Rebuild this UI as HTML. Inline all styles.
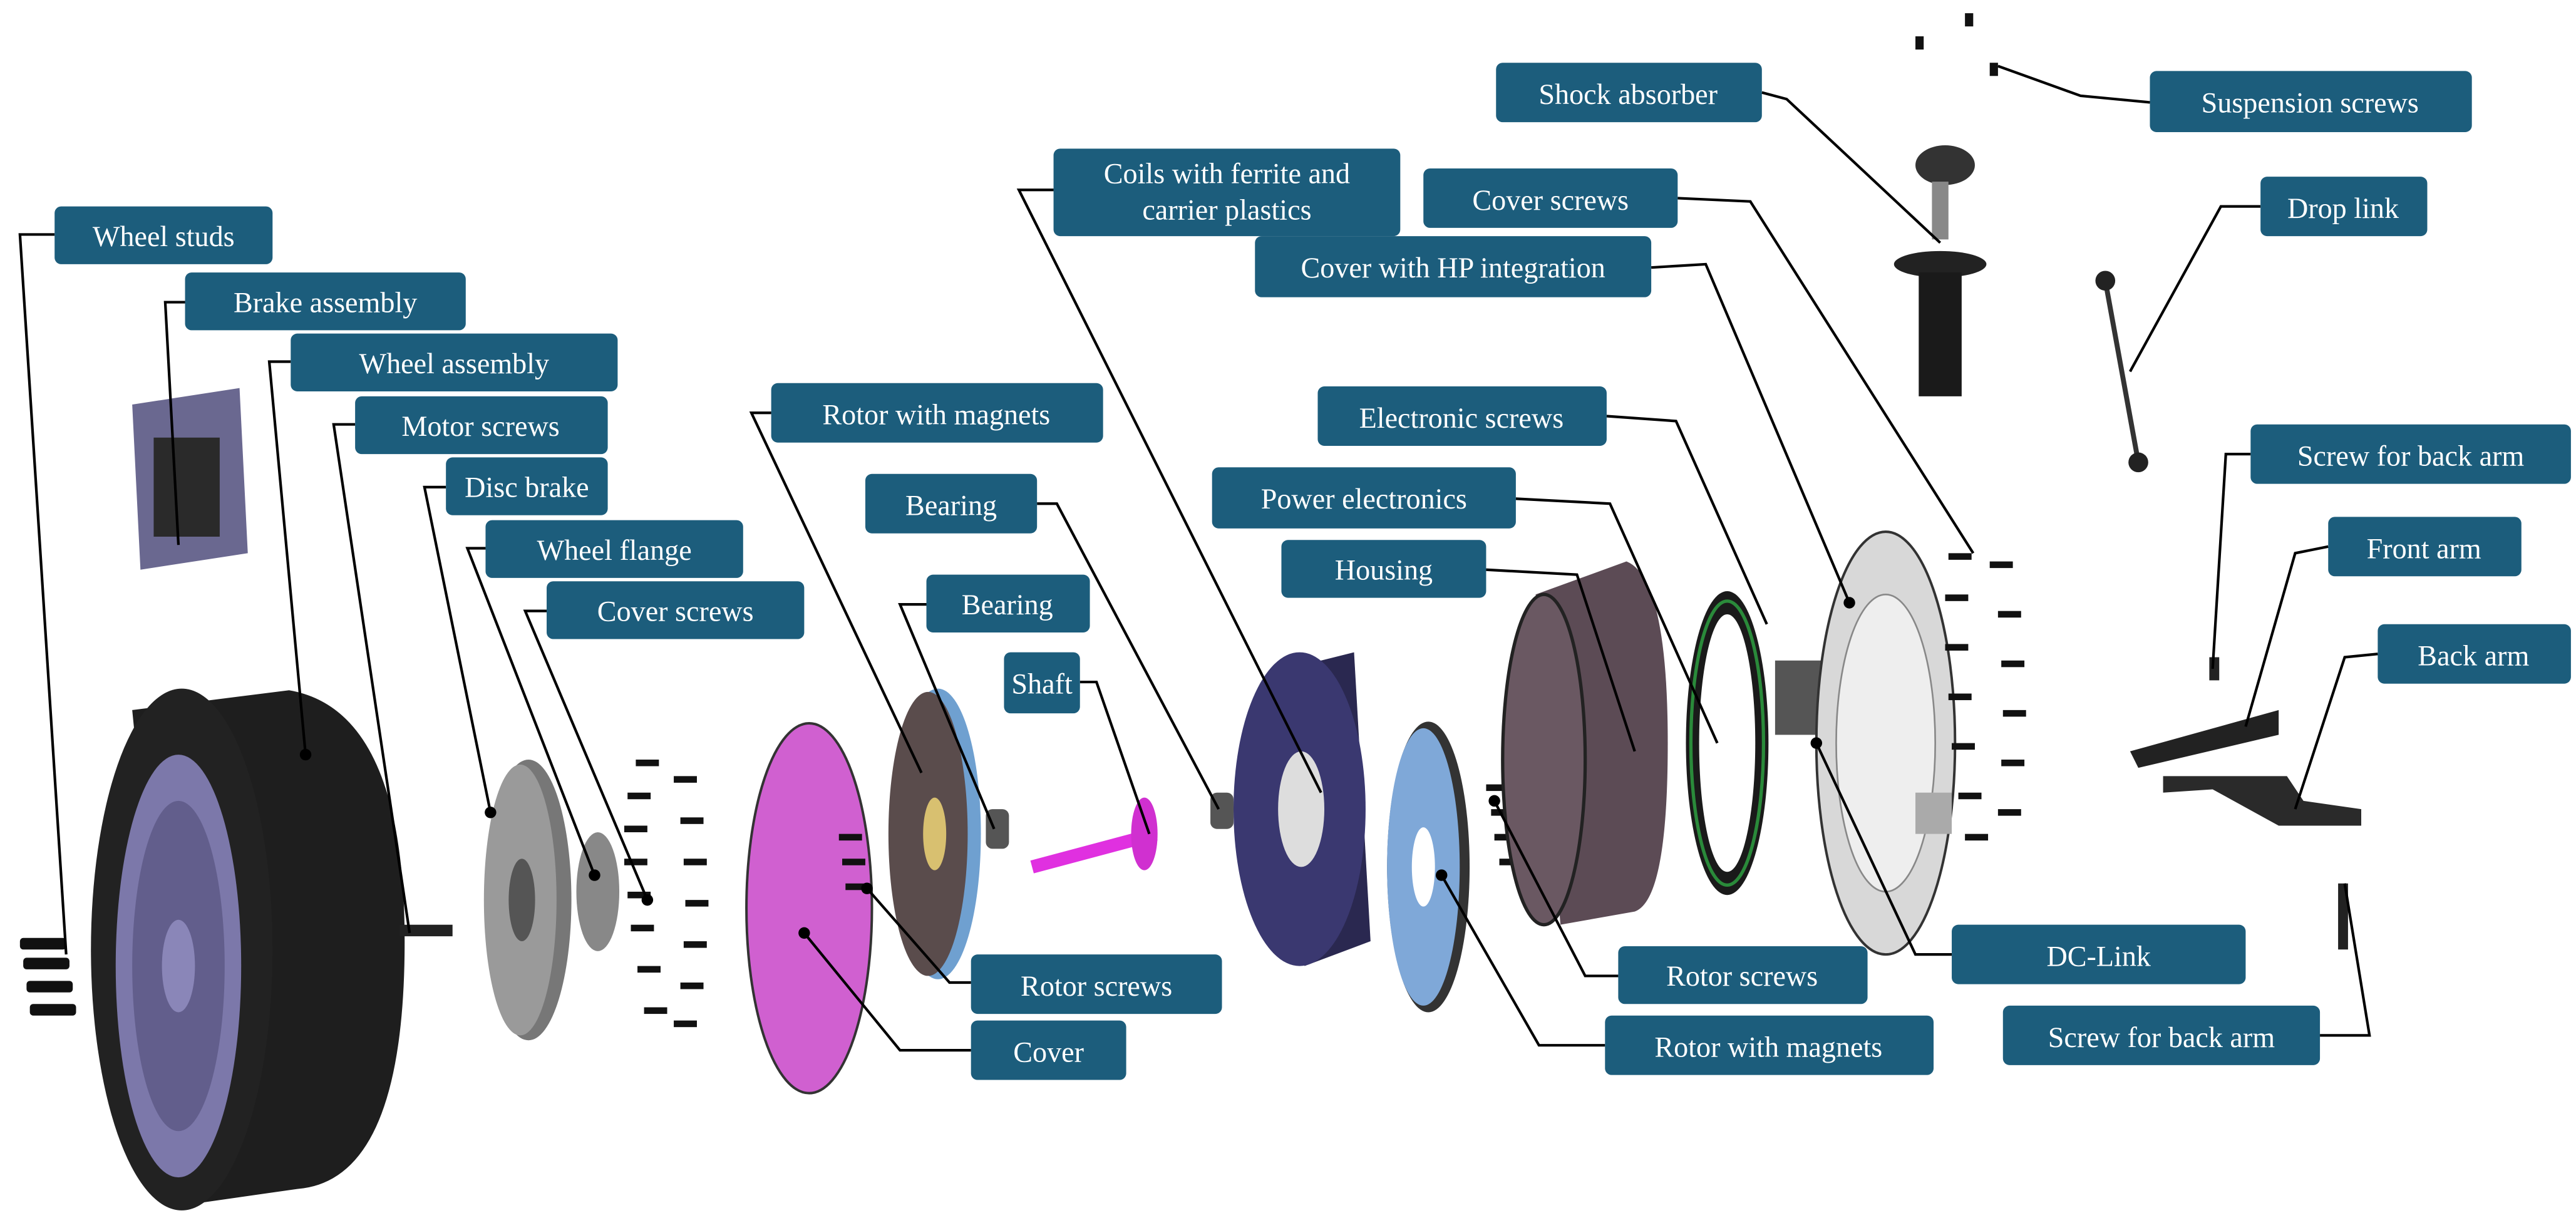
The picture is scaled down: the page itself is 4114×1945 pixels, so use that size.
<!DOCTYPE html>
<html><head><meta charset="utf-8"><style>
html,body{margin:0;padding:0;background:#fff;}
svg{display:block}
.b{fill:#1c5d7c}
.t{fill:#fff;font-family:"Liberation Serif",serif;font-size:17.5px;text-anchor:middle}
.l{stroke:#000;stroke-width:1.6;fill:none}
</style></head><body>
<svg width="4114" height="1945" viewBox="0 0 1560 737.6" xmlns="http://www.w3.org/2000/svg">
<rect width="1560" height="738" fill="#fff"/>
<g fill="#111"><rect x="12" y="568" width="28" height="7" rx="2"/><rect x="14" y="580" width="28" height="7" rx="2"/><rect x="16" y="594" width="28" height="7" rx="2"/><rect x="18" y="608" width="28" height="7" rx="2"/></g>
<path d="M80,430 L175,418 Q245,430 245,570 Q245,715 180,720 L110,730 Z" fill="#1e1e1e"/>
<ellipse cx="110" cy="575" rx="55" ry="158" fill="#222"/>
<ellipse cx="108" cy="585" rx="38" ry="128" fill="#7c78aa"/>
<ellipse cx="108" cy="585" rx="28" ry="100" fill="#625e8c"/>
<ellipse cx="108" cy="585" rx="10" ry="28" fill="#8a86b8"/>
<path d="M80,245 L145,235 L150,335 L85,345 Z" fill="#6a6890"/>
<rect x="93" y="265" width="40" height="60" fill="#2a2a2a"/>
<rect x="242" y="560" width="32" height="7" fill="#222"/>
<ellipse cx="320" cy="545" rx="26" ry="85" fill="#777"/>
<ellipse cx="315" cy="545" rx="22" ry="82" fill="#9a9a9a"/>
<ellipse cx="316" cy="545" rx="8" ry="25" fill="#555"/>
<ellipse cx="362" cy="540" rx="13" ry="36" fill="#888"/>
<g fill="#111">
<rect x="385" y="460" width="14" height="4"/><rect x="380" y="480" width="14" height="4"/><rect x="378" y="500" width="14" height="4"/><rect x="378" y="520" width="14" height="4"/><rect x="380" y="540" width="14" height="4"/><rect x="382" y="560" width="14" height="4"/><rect x="386" y="585" width="14" height="4"/><rect x="390" y="610" width="14" height="4"/>
<rect x="408" y="470" width="14" height="4"/><rect x="412" y="495" width="14" height="4"/><rect x="414" y="520" width="14" height="4"/><rect x="415" y="545" width="14" height="4"/><rect x="414" y="570" width="14" height="4"/><rect x="412" y="595" width="14" height="4"/><rect x="408" y="618" width="14" height="4"/></g>
<ellipse cx="490" cy="550" rx="38" ry="112" fill="#d060d0" stroke="#333" stroke-width="1.5"/>
<g fill="#111"><rect x="508" y="505" width="14" height="4"/><rect x="510" y="520" width="14" height="4"/><rect x="512" y="535" width="14" height="4"/></g>
<ellipse cx="568" cy="505" rx="26" ry="88" fill="#6fa0d0"/>
<ellipse cx="562" cy="505" rx="24" ry="86" fill="#5a4c4c"/>
<ellipse cx="566" cy="505" rx="7" ry="22" fill="#d8c070"/>
<rect x="597" y="490" width="14" height="24" rx="4" fill="#555"/>
<line x1="625" y1="525" x2="700" y2="505" stroke="#e030e0" stroke-width="8"/>
<ellipse cx="693" cy="505" rx="8" ry="22" fill="#d030d0"/>
<rect x="733" y="480" width="14" height="22" rx="4" fill="#555"/>
<path d="M780,405 L820,395 L830,570 L790,585 Z" fill="#2a2850"/>
<ellipse cx="787" cy="490" rx="40" ry="95" fill="#3a3870"/>
<ellipse cx="788" cy="490" rx="14" ry="35" fill="#ddd"/>
<ellipse cx="865" cy="525" rx="25" ry="88" fill="#333"/>
<ellipse cx="862" cy="525" rx="22" ry="84" fill="#7fa8d8"/>
<ellipse cx="862" cy="525" rx="7" ry="24" fill="#fff"/>
<g fill="#111"><rect x="900" y="475" width="14" height="4"/><rect x="903" y="490" width="14" height="4"/><rect x="905" y="505" width="14" height="4"/><rect x="908" y="520" width="14" height="4"/></g>
<path d="M930,360 L985,340 Q1010,350 1010,450 Q1010,545 990,552 L945,560 Z" fill="#5c4b55"/>
<ellipse cx="935" cy="460" rx="25" ry="100" fill="#6a5862" stroke="#222" stroke-width="2"/>
<ellipse cx="1046" cy="450" rx="25" ry="92" fill="#1a1a1a"/>
<ellipse cx="1046" cy="450" rx="17" ry="78" fill="#fff"/>
<ellipse cx="1046" cy="450" rx="22" ry="86" fill="none" stroke="#2a8a3a" stroke-width="2"/>
<rect x="1075" y="400" width="30" height="45" fill="#555"/>
<ellipse cx="1142" cy="450" rx="42" ry="128" fill="#d8d8d8" stroke="#333" stroke-width="1.5"/>
<ellipse cx="1142" cy="450" rx="30" ry="90" fill="#eee" stroke="#888"/>
<rect x="1160" y="480" width="22" height="25" fill="#aaa"/>
<g fill="#111">
<rect x="1180" y="335" width="14" height="4"/><rect x="1178" y="360" width="14" height="4"/><rect x="1178" y="390" width="14" height="4"/><rect x="1180" y="420" width="14" height="4"/><rect x="1182" y="450" width="14" height="4"/><rect x="1186" y="480" width="14" height="4"/><rect x="1190" y="505" width="14" height="4"/>
<rect x="1205" y="340" width="14" height="4"/><rect x="1210" y="370" width="14" height="4"/><rect x="1212" y="400" width="14" height="4"/><rect x="1213" y="430" width="14" height="4"/><rect x="1212" y="460" width="14" height="4"/><rect x="1210" y="490" width="14" height="4"/></g>
<ellipse cx="1178" cy="100" rx="18" ry="12" fill="#333"/>
<rect x="1170" y="110" width="10" height="35" fill="#888"/>
<ellipse cx="1175" cy="160" rx="28" ry="8" fill="#222"/>
<rect x="1162" y="165" width="26" height="75" fill="#1a1a1a"/>
<g fill="#111"><rect x="1160" y="22" width="5" height="8"/><rect x="1190" y="8" width="5" height="8"/><rect x="1205" y="38" width="5" height="8"/></g>
<line x1="1275" y1="170" x2="1295" y2="280" stroke="#333" stroke-width="3"/>
<circle cx="1275" cy="170" r="6" fill="#222"/><circle cx="1295" cy="280" r="6" fill="#222"/>
<path d="M1290,455 L1380,430 L1380,445 L1295,465 Z" fill="#222"/>
<path d="M1310,470 L1385,470 L1395,485 L1430,490 L1430,500 L1380,500 L1340,478 L1310,480 Z" fill="#2a2a2a"/>
<rect x="1338" y="398" width="6" height="14" fill="#222"/>
<rect x="1416" y="535" width="6" height="40" fill="#222"/>
<g class="l">
<polyline points="33,142 12,142 40,578"/>
<polyline points="112,183 100,183 108,330"/>
<polyline points="176,219 163,219 185,457"/>
<polyline points="215,257 202,257 248,565"/>
<polyline points="270,295 257,295 297,492"/>
<polyline points="294,332 283,332 360,530"/>
<polyline points="331,370 318,370 392,545"/>
<polyline points="467,250 455,250 558,468"/>
<polyline points="628,305 640,305 738,490"/>
<polyline points="561,366 545,366 602,502"/>
<polyline points="654,413 664,413 696,505"/>
<polyline points="638,115 617,115 800,480"/>
<polyline points="588,595 575,595 525,538"/>
<polyline points="588,636 545,636 487,565"/>
<polyline points="1016,120 1060,122 1195,335"/>
<polyline points="1000,162 1033,160 1120,365"/>
<polyline points="973,252 1015,255 1070,378"/>
<polyline points="918,302 975,305 1040,450"/>
<polyline points="900,345 955,348 990,455"/>
<polyline points="1067,56 1082,60 1175,147"/>
<polyline points="1302,62 1260,58 1210,40"/>
<polyline points="1369,125 1345,125 1290,225"/>
<polyline points="1363,275 1348,275 1340,405"/>
<polyline points="1410,331 1390,335 1360,440"/>
<polyline points="1440,396 1420,398 1390,490"/>
<polyline points="1182,578 1160,578 1100,450"/>
<polyline points="1405,627 1435,627 1420,535"/>
<polyline points="980,591 960,591 905,485"/>
<polyline points="972,633 932,633 873,530"/>
</g>
<g fill="#000"><circle cx="185" cy="457" r="3.5"/><circle cx="297" cy="492" r="3.5"/><circle cx="360" cy="530" r="3.5"/><circle cx="392" cy="545" r="3.5"/><circle cx="487" cy="565" r="3.5"/><circle cx="525" cy="538" r="3.5"/><circle cx="905" cy="485" r="3.5"/><circle cx="873" cy="530" r="3.5"/><circle cx="1100" cy="450" r="3.5"/><circle cx="1120" cy="365" r="3.5"/></g>
<g>
<rect class="b" x="33" y="125" width="132" height="35" rx="4"/><text class="t" x="99" y="149">Wheel studs</text>
<rect class="b" x="112" y="165" width="170" height="35" rx="4"/><text class="t" x="197" y="189">Brake assembly</text>
<rect class="b" x="176" y="202" width="198" height="35" rx="4"/><text class="t" x="275" y="226">Wheel assembly</text>
<rect class="b" x="215" y="240" width="153" height="35" rx="4"/><text class="t" x="291" y="264">Motor screws</text>
<rect class="b" x="270" y="277" width="98" height="35" rx="4"/><text class="t" x="319" y="301">Disc brake</text>
<rect class="b" x="294" y="315" width="156" height="35" rx="4"/><text class="t" x="372" y="339">Wheel flange</text>
<rect class="b" x="331" y="352" width="156" height="35" rx="4"/><text class="t" x="409" y="376">Cover screws</text>
<rect class="b" x="467" y="232" width="201" height="36" rx="4"/><text class="t" x="567" y="257">Rotor with magnets</text>
<rect class="b" x="524" y="287" width="104" height="36" rx="4"/><text class="t" x="576" y="312">Bearing</text>
<rect class="b" x="561" y="348" width="99" height="35" rx="4"/><text class="t" x="610" y="372">Bearing</text>
<rect class="b" x="608" y="395" width="46" height="37" rx="4"/><text class="t" x="631" y="420">Shaft</text>
<rect class="b" x="638" y="90" width="210" height="53" rx="4"/><text class="t" x="743" y="111">Coils with ferrite and</text><text class="t" x="743" y="133">carrier plastics</text>
<rect class="b" x="588" y="578" width="152" height="36" rx="4"/><text class="t" x="664" y="603">Rotor screws</text>
<rect class="b" x="588" y="618" width="94" height="36" rx="4"/><text class="t" x="635" y="643">Cover</text>
<rect class="b" x="862" y="102" width="154" height="36" rx="4"/><text class="t" x="939" y="127">Cover screws</text>
<rect class="b" x="760" y="143" width="240" height="37" rx="4"/><text class="t" x="880" y="168">Cover with HP integration</text>
<rect class="b" x="798" y="234" width="175" height="36" rx="4"/><text class="t" x="885" y="259">Electronic screws</text>
<rect class="b" x="734" y="283" width="184" height="37" rx="4"/><text class="t" x="826" y="308">Power electronics</text>
<rect class="b" x="776" y="327" width="124" height="35" rx="4"/><text class="t" x="838" y="351">Housing</text>
<rect class="b" x="906" y="38" width="161" height="36" rx="4"/><text class="t" x="986" y="63">Shock absorber</text>
<rect class="b" x="1302" y="43" width="195" height="37" rx="4"/><text class="t" x="1399" y="68">Suspension screws</text>
<rect class="b" x="1369" y="107" width="101" height="36" rx="4"/><text class="t" x="1419" y="132">Drop link</text>
<rect class="b" x="1363" y="257" width="194" height="36" rx="4"/><text class="t" x="1460" y="282">Screw for back arm</text>
<rect class="b" x="1410" y="313" width="117" height="36" rx="4"/><text class="t" x="1468" y="338">Front arm</text>
<rect class="b" x="1440" y="378" width="117" height="36" rx="4"/><text class="t" x="1498" y="403">Back arm</text>
<rect class="b" x="1182" y="560" width="178" height="36" rx="4"/><text class="t" x="1271" y="585">DC-Link</text>
<rect class="b" x="1213" y="609" width="192" height="36" rx="4"/><text class="t" x="1309" y="634">Screw for back arm</text>
<rect class="b" x="980" y="573" width="151" height="35" rx="4"/><text class="t" x="1055" y="597">Rotor screws</text>
<rect class="b" x="972" y="615" width="199" height="36" rx="4"/><text class="t" x="1071" y="640">Rotor with magnets</text>
</g>
</svg>
</body></html>
